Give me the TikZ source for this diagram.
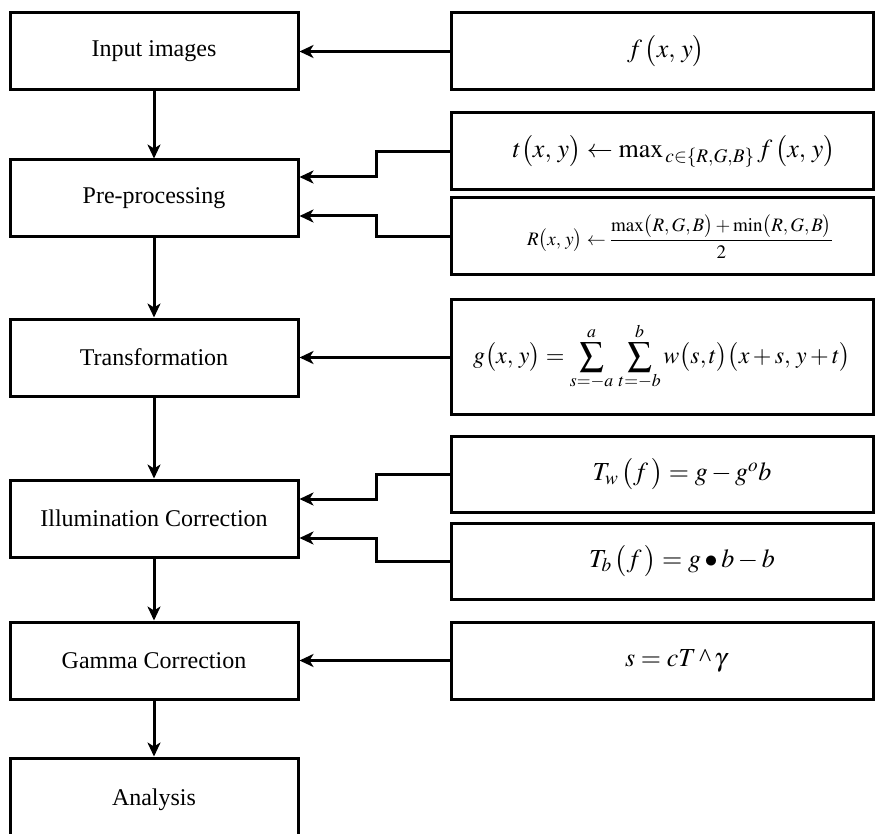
\documentclass[tikz,border=0pt]{standalone}
\usepackage{mathptmx}
\usepackage[no-math]{fontspec}
\setmainfont{Liberation Serif}
\usepackage{amsmath}
\usetikzlibrary{arrows.meta}

\tikzset{
	stepbox/.style={draw, line width=3pt, minimum width=288pt, minimum height=77pt, inner sep=0pt, font=\fontsize{24}{28}\selectfont},
	formbox/.style={draw, line width=3pt, minimum width=422pt, minimum height=77pt, inner sep=0pt, font=\fontsize{26}{30}\selectfont},
	flow/.style={line width=3pt, -{Stealth[length=14pt,width=13pt,inset=4pt]}}
}
\newcommand{\uplim}[1]{\raisebox{0pt}[\height][3pt]{$\scriptstyle #1$}}
\newcommand{\lowlim}[1]{\raisebox{0pt}[9pt][\depth]{$\scriptstyle #1$}}

\begin{document}
\begin{tikzpicture}[x=1pt, y=-1pt]
			%%%%% START %%%%%
			
			\useasboundingbox (0, 0) rectangle (875, 834);
			
			\node[stepbox] (input) at (154, 51.5) {Input images};
			\node[stepbox] (pre) at (154, 198.5) {Pre-processing};
			\node[stepbox] (trans) at (154, 357.5) {Transformation};
			\node[stepbox] (illum) at (154, 518.5) {Illumination Correction};
			\node[stepbox] (gamma) at (154, 660.5) {Gamma Correction};
			\node[stepbox, minimum height=84pt] (analysis) at (154, 800) {Analysis};
			
			\node[formbox] (fxy) at (662, 51.5) {\hspace{8pt}$f\,\bigl(x,\, y\bigr)$};
			\node[formbox] (txy) at (662, 151.5) {\hspace{24pt}$t\bigl(x,\, y\bigr) \leftarrow \max\nolimits_{\,c\in\{R,G,B\}} f\,\bigl(x,\, y\bigr)$};
			\node[formbox, font=\fontsize{19}{22}\selectfont] (rxy) at (662, 236.5) {\hspace{36pt}$R\bigl(x,\, y\bigr) \leftarrow \dfrac{\max\bigl(R,G,B\bigr)+\min\bigl(R,G,B\bigr)}{2}$};
			\node[formbox, minimum height=115pt, font=\fontsize{24}{28}\selectfont] (gxy) at (662, 356.5) {$g\bigl(x,\, y\bigr) = \displaystyle\sum_{\lowlim{s=-a}}^{\uplim{a}}\,\sum_{\lowlim{t=-b}}^{\uplim{b}} w\bigl(s,t\bigr)\bigl(x+s,\, y+t\bigr)$};
			\node[formbox, minimum height=76pt] (tw) at (662, 474) {\hspace{40pt}$T_w\,\bigl(f\,\bigr) = g - g^{o}b$};
			\node[formbox, minimum height=76pt] (tb) at (662, 561) {\hspace{40pt}$T_b\,\bigl(f\,\bigr) = g \bullet b - b$};
			\node[formbox] (sct) at (662, 660.5) {\hspace{28pt}$s = cT\,$\textasciicircum$\,\gamma$};
			
			% main chain
			\draw[flow] (input) -- (pre);
			\draw[flow] (pre) -- (trans);
			\draw[flow] (trans) -- (illum);
			\draw[flow] (illum) -- (gamma);
			\draw[flow] (gamma) -- (analysis);
			
			% formulas into the steps
			\draw[flow] (fxy) -- (input);
			\draw[flow] (txy.west) -| (376, 177) -- ([yshift=21.5pt]pre.east);
			\draw[flow] (rxy.west) -| (376, 216) -- ([yshift=-17.5pt]pre.east);
			\draw[flow] (gxy.west |- trans) -- (trans);
			\draw[flow] (tw.west) -| (376, 499) -- ([yshift=19.5pt]illum.east);
			\draw[flow] (tb.west) -| (376, 538) -- ([yshift=-19.5pt]illum.east);
			\draw[flow] (sct) -- (gamma);
			
			%%%%% END %%%%%
		\end{tikzpicture}
\end{document}
